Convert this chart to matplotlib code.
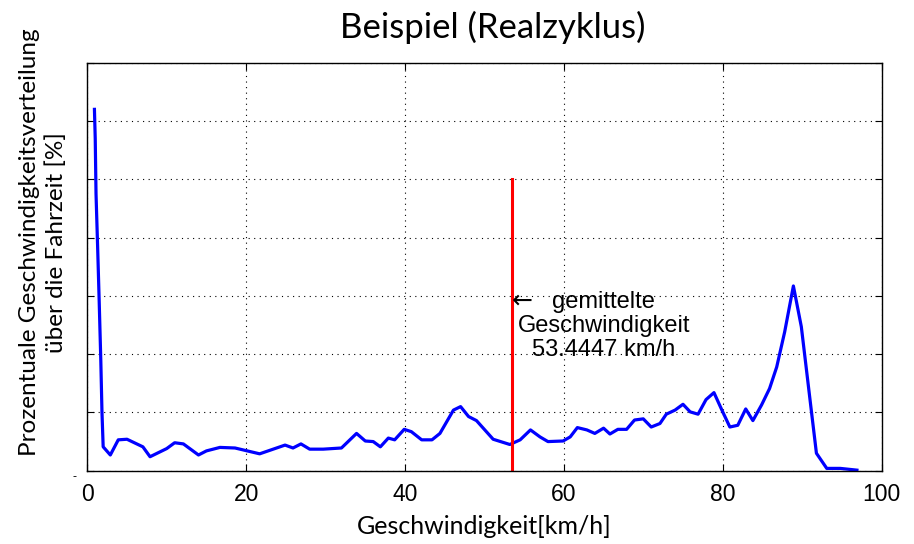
import numpy as np
from matplotlib import pyplot as plt

# speed distribution
speed = [0.9, 1.0, 1.1, 1.3, 1.5, 1.7, 1.85, 2.0, 2.9, 3.9, 5.0, 7.0, 7.9, 10.0, 11.0,
         12.1, 14.0, 15.0, 16.7, 18.6, 21.7, 24.9, 25.9, 26.9, 28.0, 29.7, 32.0, 33.9,
         35.0, 36.0, 36.9, 37.9, 38.7, 39.9, 40.8, 42.1, 43.4, 44.4, 46.1, 47.0, 48.0,
         49.0, 51.1, 53.2, 54.5, 55.8, 57.0, 58.0, 59.9, 60.8, 61.7, 62.9, 63.9, 65.0,
         65.8, 66.8, 67.9, 68.9, 70.0, 71.0, 72.1, 72.9, 74.0, 75.0, 75.9, 76.9, 77.9,
         78.9, 79.9, 80.9, 81.9, 82.9, 83.8, 84.9, 85.9, 86.8, 87.8, 88.9, 89.9, 90.8,
         91.8, 93.1, 94.8, 96.9]
share = [6.2, 5.7, 4.75, 3.85, 2.9, 1.9, 1.0, 0.41, 0.27, 0.53, 0.54, 0.41, 0.24, 0.38,
         0.48, 0.46, 0.27, 0.34, 0.40, 0.39, 0.29, 0.44, 0.39, 0.46, 0.37, 0.37, 0.39,
         0.64, 0.51, 0.50, 0.41, 0.56, 0.53, 0.71, 0.67, 0.53, 0.53, 0.64, 1.04, 1.10,
         0.93, 0.86, 0.54, 0.45, 0.53, 0.70, 0.58, 0.50, 0.51, 0.58, 0.74, 0.70, 0.64,
         0.73, 0.63, 0.71, 0.71, 0.87, 0.89, 0.75, 0.81, 0.97, 1.04, 1.14, 1.01, 0.97,
         1.22, 1.34, 1.04, 0.75, 0.78, 1.06, 0.86, 1.13, 1.41, 1.78, 2.38, 3.17, 2.47,
         1.44, 0.30, 0.04, 0.04, 0.01]
mean_speed = 53.4447
mean_line_top = 5
x_ticks = [0, 20, 40, 60, 80, 100]
y_ticks = [0, 1, 2, 3, 4, 5, 6, 7]
ann_lines = ['gemittelte', 'Geschwindigkeit', '53.4447 km/h']

fig = plt.figure(figsize=(9.14, 5.44), dpi=100)
ax = fig.add_axes([0.0955, 0.1347, 0.869, 0.75])

ax.plot(speed, share, color='#0000ff', lw=2.3)
ax.plot([mean_speed, mean_speed], [0, mean_line_top], color='#ff0000', lw=2.2)

ax.set_xlim(0, 100)
ax.set_ylim(0, 7)
ax.set_xticks(x_ticks)
ax.set_yticks(y_ticks)
ax.set_yticklabels([])
ax.grid(True, color='k', linestyle=(0, (1, 4)), lw=0.8)
ax.tick_params(direction='in', top=True, right=True, length=5, width=0.8,
               labelsize=16.5, pad=9)
for lbl in ax.get_xticklabels():
    lbl.set_fontfamily('Liberation Sans')
for sp in ax.spines.values():
    sp.set_linewidth(1.0)

# annotation of the mean value, one text per line
ax.text(mean_speed, 2.92, '\u2190', ha='left', va='center',
        family='DejaVu Sans', fontsize=18, color='k')
for i, line in enumerate(ann_lines):
    ax.text(mean_speed + 11.6, 2.90 - 0.415 * i, line, ha='center', va='center',
            family='Liberation Sans', fontsize=17, color='k')

# small leftover mark at the lower left corner
fig.text(0.079, 0.118, '-', fontsize=9, family='Liberation Sans')

ax.set_title('Beispiel (Realzyklus)', family='Lato', fontsize=25, pad=18, x=0.51)
ax.set_xlabel('Geschwindigkeit[km/h]', family='Lato', fontsize=18, labelpad=6)
ax.set_ylabel('Prozentuale Geschwindigkeitsverteilung\n\u00fcber die Fahrzeit [%]',
              family='Lato', fontsize=17.5, linespacing=1.3)
ax.yaxis.set_label_coords(-0.026, 0.56)

fig.savefig('out.png', dpi=100)
